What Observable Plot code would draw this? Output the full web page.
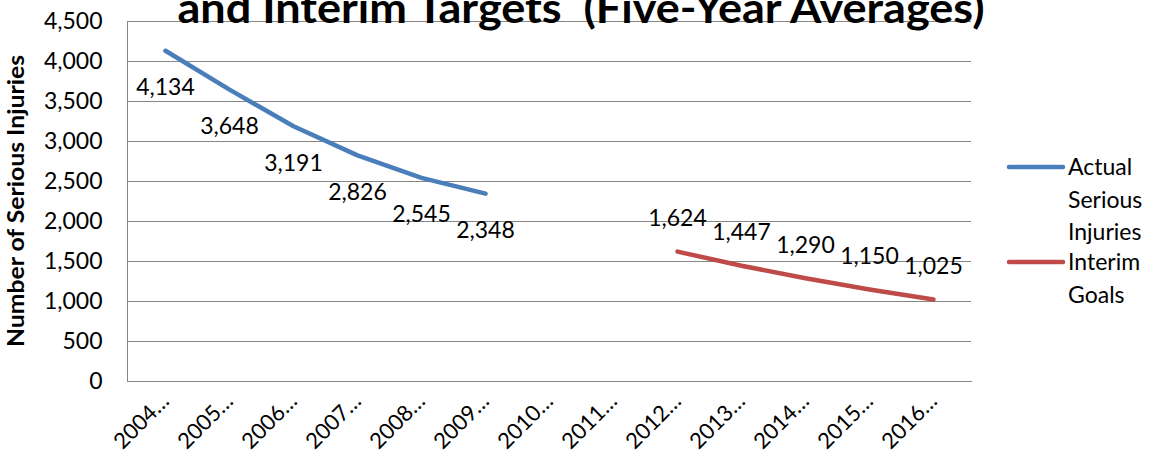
<!DOCTYPE html>
<html>
<head>
<meta charset="utf-8">
<script src="https://cdn.jsdelivr.net/npm/d3@7"></script>
<script src="https://cdn.jsdelivr.net/npm/@observablehq/plot@0.6"></script>
<style>
  html, body { margin: 0; padding: 0; background: #fff; }
  #chart { position: relative; width: 1154px; height: 458px; }
</style>
</head>
<body>
<div id="chart"></div>
<script>
const categories = ["2004…","2005…","2006…","2007…","2008…","2009…","2010…","2011…","2012…","2013…","2014…","2015…","2016…"];
const actualYears = ["2004…","2005…","2006…","2007…","2008…","2009…"];
const actualValues = [4134, 3648, 3191, 2826, 2545, 2348];
const goalYears = ["2012…","2013…","2014…","2015…","2016…"];
const goalValues = [1624, 1447, 1290, 1150, 1025];
const yTicks = [0, 500, 1000, 1500, 2000, 2500, 3000, 3500, 4000, 4500];
const seriesNames = ["Actual Serious Injuries", "Interim Goals"];
const seriesColors = ["#4a7ebb", "#be4b48"];
const titleText = "and Interim Targets  (Five-Year Averages)";
const yLabel = "Number of Serious Injuries";

const actual = actualYears.map((c, i) => ({cat: c, value: actualValues[i], series: seriesNames[0]}));
const goals = goalYears.map((c, i) => ({cat: c, value: goalValues[i], series: seriesNames[1]}));
const fmt = d3.format(",");
const FONT = "Lato, 'Open Sans', sans-serif";
const grid = "#868686";

const svg = Plot.plot({
  width: 1154,
  height: 458,
  marginLeft: 127,
  marginRight: 183,
  marginTop: 21,
  marginBottom: 77,
  style: {fontFamily: FONT, fontSize: "23px", color: "#000", background: "#fff"},
  x: {type: "point", domain: categories, padding: 0.5},
  y: {domain: [0, 4500]},
  color: {domain: seriesNames, range: seriesColors},
  marks: [
    Plot.gridY(yTicks, {stroke: grid, strokeOpacity: 1, strokeWidth: 1}),
    Plot.frame({anchor: "left", stroke: grid, strokeWidth: 1}),
    Plot.frame({anchor: "bottom", stroke: grid, strokeWidth: 1}),
    Plot.axisY(yTicks, {tickSize: 0, tickPadding: 25, tickFormat: fmt, fontSize: 23, label: null}),
    Plot.axisX({tickSize: 0, tickPadding: 16, tickRotate: -45, fontSize: 22, label: null}),
    Plot.line(actual, {x: "cat", y: "value", stroke: "series", strokeWidth: 4.5, strokeLinecap: "round"}),
    Plot.line(goals, {x: "cat", y: "value", stroke: "series", strokeWidth: 4.5, strokeLinecap: "round"}),
    Plot.text(actual, {x: "cat", y: "value", text: d => fmt(d.value), dy: 37, fontSize: 23, fill: "#000"}),
    Plot.text(goals, {x: "cat", y: "value", text: d => fmt(d.value), dy: -33, fontSize: 23, fill: "#000"})
  ]
});
document.getElementById("chart").appendChild(svg);

const s = d3.select(svg);
// title (its top is cut off in the reference)
s.append("text")
  .attr("x", 581).attr("y", 23)
  .attr("text-anchor", "middle")
  .attr("font-family", FONT)
  .attr("font-weight", "bold")
  .attr("font-size", 42)
  .attr("textLength", 807)
  .attr("lengthAdjust", "spacingAndGlyphs")
  .attr("fill", "#000")
  .text(titleText);
// y axis title
s.append("text")
  .attr("transform", "translate(24,201) rotate(-90)")
  .attr("text-anchor", "middle")
  .attr("font-family", FONT)
  .attr("font-weight", "bold")
  .attr("font-size", 22)
  .attr("textLength", 292)
  .attr("lengthAdjust", "spacingAndGlyphs")
  .attr("fill", "#000")
  .text(yLabel);
// legend
const legendItems = [
  {lines: ["Actual", "Serious", "Injuries"], y: 167, color: seriesColors[0]},
  {lines: ["Interim", "Goals"], y: 262, color: seriesColors[1]}
];
legendItems.forEach(it => {
  s.append("line").attr("x1", 1009).attr("x2", 1063).attr("y1", it.y).attr("y2", it.y)
    .attr("stroke", it.color).attr("stroke-width", 4.5).attr("stroke-linecap", "round");
  it.lines.forEach((t, i) => {
    s.append("text").attr("x", 1068).attr("y", it.y + i * 32.5)
      .attr("dy", "0.35em")
      .attr("text-anchor", "start")
      .attr("font-family", FONT).attr("font-size", 23).attr("fill", "#000")
      .text(t);
  });
});
</script>
</body>
</html>
